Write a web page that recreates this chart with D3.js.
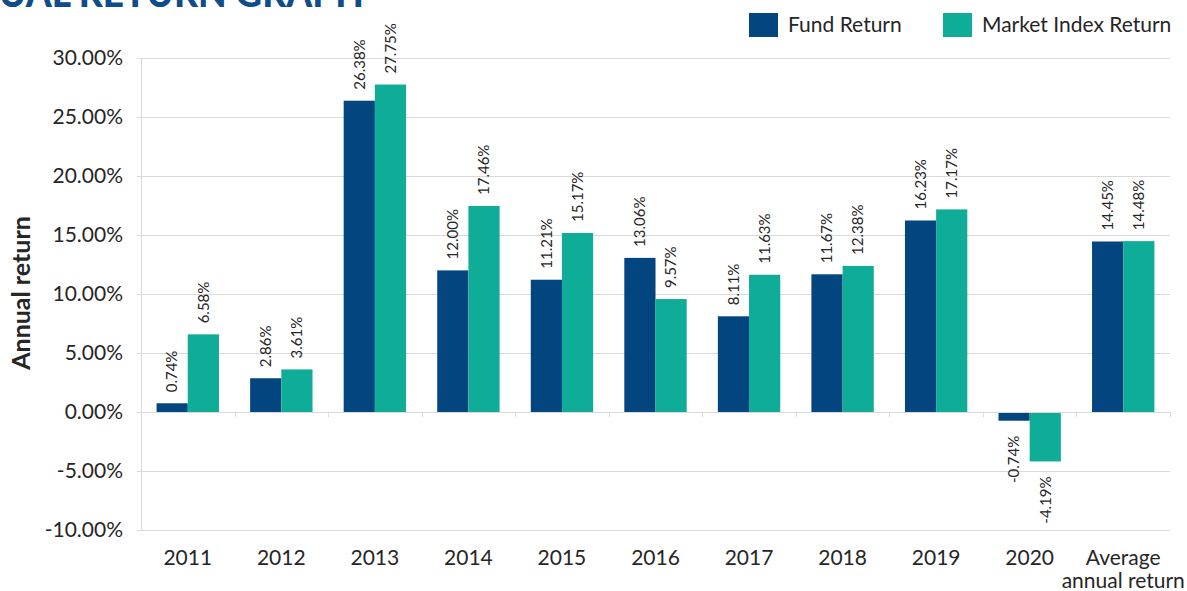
<!DOCTYPE html>
<html>
<head>
<meta charset="utf-8">
<script src="https://cdn.jsdelivr.net/npm/d3@7"></script>
<style>
  body { margin: 0; background: #fff; }
  svg { display: block; font-family: Lato, "Open Sans", sans-serif; }
</style>
</head>
<body>
<div id="chart"></div>
<script>
// Dados do gráfico
const categories = ['2011', '2012', '2013', '2014', '2015', '2016', '2017', '2018', '2019', '2020', 'Average\nannual return'];
const fundReturn = [0.74, 2.86, 26.38, 12.00, 11.21, 13.06, 8.11, 11.67, 16.23, -0.74, 14.45];
const marketReturn = [6.58, 3.61, 27.75, 17.46, 15.17, 9.57, 11.63, 12.38, 17.17, -4.19, 14.48];
const seriesNames = ['Fund Return', 'Market Index Return'];
const yTicks = [-10, -5, 0, 5, 10, 15, 20, 25, 30];

const colors = ['#03457f', '#0fac98'];
const textColor = '#262626';
const gridColor = '#d9d9d9';

const W = 1187, H = 591;
const margin = {top: 58, right: 17, bottom: 61, left: 141};
const width = W - margin.left - margin.right;
const height = H - margin.top - margin.bottom;

const svg = d3.select('#chart').append('svg')
    .attr('width', W)
    .attr('height', H);

// Título (cortado no topo, como no original)
svg.append('text')
    .attr('x', 364)
    .attr('y', 7)
    .attr('text-anchor', 'end')
    .style('font-size', '37px')
    .style('font-weight', 900)
    .style('fill', '#0f4d8a')
    .text('ANNUAL RETURN GRAPH');

const g = svg.append('g')
    .attr('transform', `translate(${margin.left},${margin.top})`);

const y = d3.scaleLinear().domain([-10, 30]).range([height, 0]);
const x0 = d3.scaleBand().domain(categories).range([0, width]).padding(0);
const barW = x0.bandwidth() / 3;

// Linhas de grade
g.selectAll('.grid')
    .data(yTicks)
    .enter()
    .append('line')
    .attr('x1', -4)
    .attr('x2', width)
    .attr('y1', d => Math.round(y(d)) + 0.5)
    .attr('y2', d => Math.round(y(d)) + 0.5)
    .style('stroke', gridColor)
    .style('stroke-width', 1);

// Eixo vertical
g.append('line')
    .attr('x1', 0.5).attr('x2', 0.5)
    .attr('y1', 0).attr('y2', height)
    .style('stroke', gridColor);

// Rótulos do eixo Y
g.selectAll('.y-label')
    .data(yTicks)
    .enter()
    .append('text')
    .attr('x', -18)
    .attr('y', d => y(d))
    .attr('dy', '0.35em')
    .attr('text-anchor', 'end')
    .style('font-size', '21px')
    .style('fill', textColor)
    .text(d => d.toFixed(2) + '%');

// Título do eixo Y
svg.append('text')
    .attr('transform', `translate(30,${293}) rotate(-90)`)
    .attr('text-anchor', 'middle')
    .style('font-size', '25px')
    .style('font-weight', 'bold')
    .style('fill', textColor)
    .text('Annual return');

// Barras
const groups = g.selectAll('.cat')
    .data(categories.map((c, i) => ({c, vals: [fundReturn[i], marketReturn[i]]})))
    .enter()
    .append('g')
    .attr('transform', d => `translate(${x0(d.c) + barW / 2},0)`);

groups.selectAll('rect')
    .data(d => d.vals)
    .enter()
    .append('rect')
    .attr('x', (d, i) => i * barW)
    .attr('width', barW)
    .attr('y', d => y(Math.max(0, d)))
    .attr('height', d => Math.abs(y(d) - y(0)))
    .style('fill', (d, i) => colors[i]);

// Linha do zero e marcas de categoria
g.append('line')
    .attr('x1', 0).attr('x2', width)
    .attr('y1', Math.round(y(0)) + 0.5).attr('y2', Math.round(y(0)) + 0.5)
    .style('stroke', gridColor);

g.selectAll('.cat-tick')
    .data(d3.range(categories.length + 1))
    .enter()
    .append('line')
    .attr('x1', d => Math.round(d * x0.step()) + 0.5)
    .attr('x2', d => Math.round(d * x0.step()) + 0.5)
    .attr('y1', y(0))
    .attr('y2', y(0) + 5)
    .style('stroke', gridColor);

// Rótulos de dados
groups.selectAll('.val')
    .data(d => d.vals)
    .enter()
    .append('text')
    .attr('transform', (d, i) => {
        const cx = i * barW + barW / 2;
        const cy = d >= 0 ? y(d) - 11 : y(d) + 15;
        return `translate(${cx},${cy}) rotate(-90)`;
    })
    .attr('dy', '0.35em')
    .attr('text-anchor', d => d >= 0 ? 'start' : 'end')
    .style('font-size', '15px')
    .style('fill', textColor)
    .text(d => d.toFixed(2) + '%');

// Rótulos das categorias
const catLabels = g.selectAll('.cat-label')
    .data(categories)
    .enter()
    .append('text')
    .attr('x', d => x0(d) + x0.bandwidth() / 2)
    .attr('y', height + 35)
    .attr('text-anchor', 'middle')
    .style('font-size', '21px')
    .style('fill', textColor);

catLabels.selectAll('tspan')
    .data(d => d.split('\n'))
    .enter()
    .append('tspan')
    .attr('x', function() { return d3.select(this.parentNode).attr('x'); })
    .attr('dy', (d, i) => i === 0 ? 0 : 23)
    .text(d => d);

// Legenda
const legendX = [749, 943];
const legend = svg.selectAll('.legend-item')
    .data(seriesNames)
    .enter()
    .append('g')
    .attr('transform', (d, i) => `translate(${legendX[i]},13)`);

legend.append('rect')
    .attr('width', 29)
    .attr('height', 24)
    .style('fill', (d, i) => colors[i]);

legend.append('text')
    .attr('x', 39)
    .attr('y', 19)
    .style('font-size', '21px')
    .style('fill', textColor)
    .text(d => d);
</script>
</body>
</html>
